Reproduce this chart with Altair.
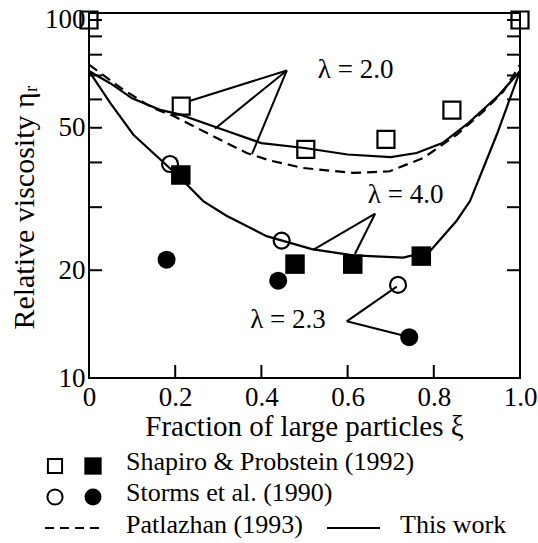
import altair as alt
import pandas as pd

FONT = "Liberation Serif"

# ---- model curves ----
xi_work20 = [0, 0.05, 0.10, 0.165, 0.21, 0.30, 0.40, 0.50, 0.60, 0.70, 0.76, 0.82, 0.88, 0.95, 1.0]
eta_work20 = [72, 66.5, 60.4, 56.1, 54.5, 49.9, 45.3, 43.9, 42.1, 41.4, 42.5, 45.3, 51.5, 61.5, 72]

xi_patl20 = [0, 0.08, 0.149, 0.195, 0.258, 0.366, 0.42, 0.497, 0.613, 0.698, 0.776, 0.853, 0.915, 0.961, 1.0]
eta_patl20 = [75, 63.8, 56.7, 54.0, 49.4, 42.5, 40.5, 38.6, 37.4, 37.8, 41.2, 47.8, 55.5, 63.1, 75]

xi_work40 = [0, 0.05, 0.103, 0.211, 0.265, 0.319, 0.412, 0.517, 0.613, 0.729, 0.791, 0.853, 0.884, 0.915, 0.946, 1.0]
eta_work40 = [72, 58.5, 47.8, 36.3, 31.2, 28.4, 24.9, 22.9, 22.0, 21.7, 22.6, 27.5, 31.2, 38.6, 47.8, 72]

# ---- experimental points ----
sp_open_xi = [0, 0.214, 0.503, 0.689, 0.842, 1.0]
sp_open_eta = [100, 57.5, 43.5, 46.4, 56.0, 100]
sp_fill_xi = [0.213, 0.478, 0.612, 0.771]
sp_fill_eta = [36.9, 20.8, 20.8, 21.9]
st_open_xi = [0.188, 0.447, 0.717]
st_open_eta = [39.6, 24.2, 18.2]
st_fill_xi = [0.180, 0.439, 0.743]
st_fill_eta = [21.4, 18.7, 13.0]

# ---- annotation labels and leader lines (data coordinates) ----
ann_text = ["λ = 2.0", "λ = 4.0", "λ = 2.3"]
ann_xi = [0.531, 0.647, 0.374]
ann_eta = [72.5, 32.5, 14.5]

lead_x1 = [0.459, 0.459, 0.459, 0.664, 0.664, 0.598, 0.598]
lead_y1 = [72.3, 72.3, 72.3, 28.8, 28.8, 14.4, 14.4]
lead_x2 = [0.235, 0.292, 0.378, 0.520, 0.617, 0.714, 0.745]
lead_y2 = [59.5, 49.7, 42.2, 22.8, 22.2, 18.0, 13.0]

ytick_vals = [20, 30, 40, 50, 60, 70, 80, 90, 100]
xtick_vals = [0.2, 0.4, 0.6, 0.8]

W, H = 431, 365
xs = alt.Scale(domain=[0, 1], nice=False, zero=False)
ys = alt.Scale(type="log", domain=[10, 104.6], nice=False)

xaxis = alt.Axis(values=[0, 0.2, 0.4, 0.6, 0.8, 1.0], labelExpr="datum.value == 0 ? '0' : format(datum.value, '.1f')",
                 ticks=False, domain=False, grid=False, labelFont=FONT, labelFontSize=27, labelColor="black",
                 labelPadding=6, labelFlush=False, labelOverlap=False,
                 title="Fraction of large particles ξ", titleFont=FONT, titleFontSize=29, titleFontWeight="normal",
                 titleColor="black", titleX=215, titleY=57, titleBaseline="alphabetic", titleAlign="center")
yaxis = alt.Axis(values=[10, 20, 50, 100], format="d", ticks=False, domain=False, grid=False,
                 labelFont=FONT, labelFontSize=27, labelColor="black", labelPadding=4, labelOverlap=False,
                 labelFlush=False,
                 title="Relative viscosity ηᵣ", titleFont=FONT, titleFontSize=30, titleFontWeight="normal",
                 titleColor="black", titleX=-56, titleY=194, titleBaseline="alphabetic", titleAlign="center",
                 titleAngle=270)

def line(xv, yv, dash=None):
    df = pd.DataFrame({"xi": xv, "eta": yv})
    kw = dict(color="black", strokeWidth=2.2)
    if dash:
        kw["strokeDash"] = dash
    return alt.Chart(df).mark_line(**kw).encode(
        x=alt.X("xi:Q", scale=xs, axis=xaxis), y=alt.Y("eta:Q", scale=ys, axis=yaxis))

def pts(xv, yv, shape, filled, size):
    df = pd.DataFrame({"xi": xv, "eta": yv})
    if filled:
        m = alt.Chart(df).mark_point(shape=shape, filled=True, color="black", size=size, opacity=1)
    else:
        m = alt.Chart(df).mark_point(shape=shape, filled=False, color="black", strokeWidth=2.2, size=size, opacity=1)
    return m.encode(x=alt.X("xi:Q", scale=xs), y=alt.Y("eta:Q", scale=ys))

lead_df = pd.DataFrame({"x1": lead_x1, "y1": lead_y1, "x2": lead_x2, "y2": lead_y2})
leaders = alt.Chart(lead_df).mark_rule(color="black", strokeWidth=2).encode(
    x=alt.X("x1:Q", scale=xs), y=alt.Y("y1:Q", scale=ys), x2="x2:Q", y2="y2:Q")

ann_df = pd.DataFrame({"t": ann_text, "xi": ann_xi, "eta": ann_eta})
ann = alt.Chart(ann_df).mark_text(font=FONT, fontSize=27, align="left", baseline="middle", color="black").encode(
    x=alt.X("xi:Q", scale=xs), y=alt.Y("eta:Q", scale=ys), text="t:N")

yt_df = pd.DataFrame({"v": ytick_vals})
ytl = alt.Chart(yt_df).mark_rule(color="black", strokeWidth=2).encode(
    y=alt.Y("v:Q", scale=ys), x=alt.value(0), x2=alt.value(13))
ytr = alt.Chart(yt_df).mark_rule(color="black", strokeWidth=2).encode(
    y=alt.Y("v:Q", scale=ys), x=alt.value(W - 13), x2=alt.value(W))
xt_df = pd.DataFrame({"v": xtick_vals})
xtb = alt.Chart(xt_df).mark_rule(color="black", strokeWidth=2).encode(
    x=alt.X("v:Q", scale=xs), y=alt.value(H), y2=alt.value(H - 13))

# ---- legend below the plot ----
dummy = pd.DataFrame({"a": [0]})
def lsym(shape, filled, size, x, y):
    if filled:
        m = alt.Chart(dummy).mark_point(shape=shape, filled=True, color="black", size=size, opacity=1)
    else:
        m = alt.Chart(dummy).mark_point(shape=shape, filled=False, color="black", strokeWidth=2, size=size, opacity=1)
    return m.encode(x=alt.value(x), y=alt.value(y))

def ltext(t, x, y):
    return alt.Chart(dummy).mark_text(text=t, font=FONT, fontSize=26, align="left", baseline="alphabetic",
                                      color="black").encode(x=alt.value(x), y=alt.value(y))

def lline(x1, x2, y, dash=None):
    kw = dict(color="black", strokeWidth=2)
    if dash:
        kw["strokeDash"] = dash
    return alt.Chart(dummy).mark_rule(**kw).encode(x=alt.value(x1), x2=alt.value(x2), y=alt.value(y))

legend = [
    lsym("square", False, 200, -34, 453), lsym("square", True, 300, 4, 453),
    ltext("Shapiro & Probstein (1992)", 37, 457),
    lsym("circle", False, 230, -34, 484), lsym("circle", True, 290, 4, 484),
    ltext("Storms et al. (1990)", 37, 488),
    lline(-44, 16, 515, [9, 6]), ltext("Patlazhan (1993)", 37, 520),
    lline(238, 291, 515), ltext("This work", 311, 520),
]

chart = alt.layer(
    line(xi_work20, eta_work20),
    line(xi_patl20, eta_patl20, [10, 6]),
    line(xi_work40, eta_work40),
    leaders, ann, ytl, ytr, xtb,
    pts(sp_open_xi, sp_open_eta, "square", False, 289),
    pts(sp_fill_xi, sp_fill_eta, "square", True, 380),
    pts(st_open_xi, st_open_eta, "circle", False, 256),
    pts(st_fill_xi, st_fill_eta, "circle", True, 324),
    *legend,
).properties(
    width=W, height=H,
    autosize=alt.AutoSizeParams(type="none"),
    padding={"left": 89, "top": 13, "right": 18, "bottom": 165},
    background="white",
).configure_view(stroke="black", strokeWidth=2)

chart.save("out.html", embed_options={"renderer": "svg", "actions": False})
